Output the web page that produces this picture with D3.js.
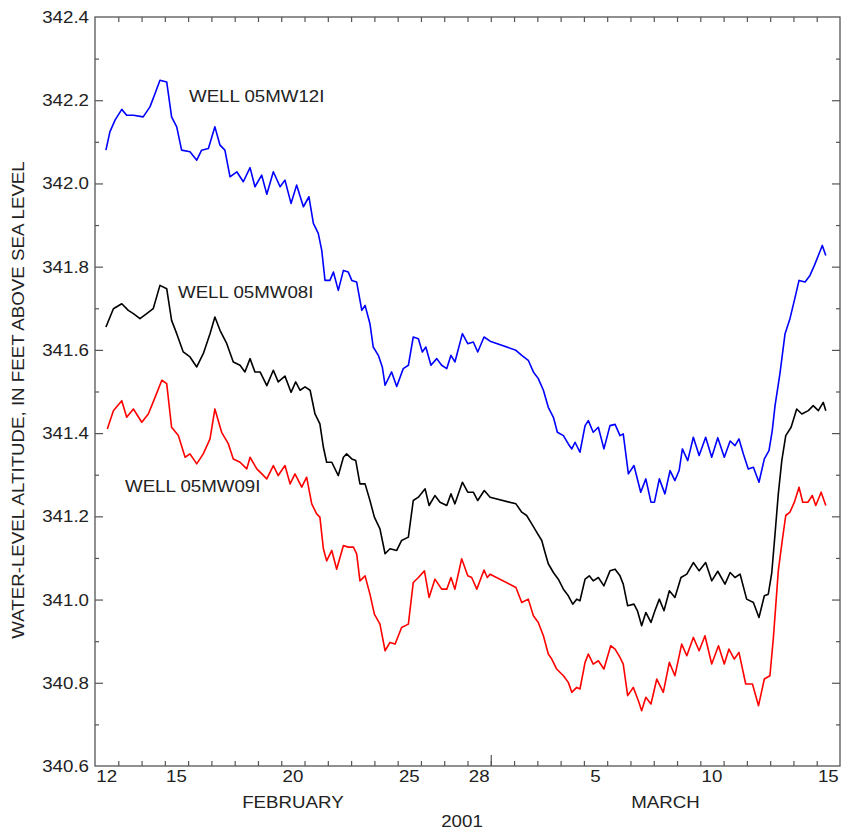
<!DOCTYPE html>
<html>
<head>
<meta charset="utf-8">
<script src="https://cdn.jsdelivr.net/npm/d3@7"></script>
<style>
  body { margin: 0; background: #fff; }
  text { font-family: "Liberation Sans", Arial, sans-serif; fill: #222; }
</style>
</head>
<body>
<svg id="chart" width="841" height="830"></svg>
<script>
// days counted from 12 Feb 2001 00:00, levels in feet
const blueDays = [0.47,0.64,0.86,1.15,1.36,1.65,2.07,2.36,2.58,2.79,3.08,3.29,3.51,3.72,4.08,4.37,4.58,4.87,5.15,5.37,5.58,5.80,6.09,6.37,6.66,6.87,7.16,7.38,7.66,7.95,8.16,8.42,8.66,8.95,9.19,9.38,9.59,9.74,9.88,10.09,10.24,10.45,10.67,10.88,11.03,11.24,11.46,11.60,11.81,11.95,12.17,12.34,12.46,12.74,12.96,13.24,13.46,13.67,13.89,14.06,14.21,14.43,14.68,14.89,15.11,15.29,15.46,15.78,16.01,16.25,16.44,16.71,16.97,18.08,18.33,18.61,18.83,19.04,19.26,19.47,19.69,19.86,20.12,20.33,20.48,20.62,20.83,21.05,21.19,21.40,21.62,21.86,22.12,22.34,22.55,22.69,22.91,23.15,23.44,23.66,23.88,24.03,24.24,24.48,24.70,24.91,25.09,25.23,25.46,25.70,25.95,26.23,26.49,26.75,27.03,27.28,27.49,27.66,27.85,28.06,28.28,28.52,28.75,28.95,29.09,29.21,29.42,29.64,29.85,30.04,30.24,30.50,30.71,30.90,31.07,31.24,31.39];
const blueLevels = [342.080,342.124,342.152,342.178,342.164,342.164,342.160,342.184,342.216,342.248,342.244,342.160,342.136,342.080,342.076,342.056,342.080,342.084,342.136,342.092,342.080,342.016,342.028,342.004,342.038,341.992,342.020,341.974,342.028,341.992,342.008,341.952,341.996,341.944,341.968,341.904,341.880,341.839,341.767,341.767,341.787,341.743,341.791,341.787,341.767,341.763,341.695,341.707,341.663,341.607,341.587,341.559,341.515,341.547,341.512,341.555,341.563,341.631,341.627,341.595,341.607,341.563,341.579,341.563,341.555,341.587,341.571,341.639,341.615,341.619,341.595,341.631,341.621,341.599,341.587,341.575,341.547,341.531,341.503,341.462,341.438,341.402,341.394,341.374,341.362,341.378,341.354,341.418,341.430,341.402,341.414,341.362,341.418,341.421,341.394,341.398,341.302,341.322,341.258,341.290,341.234,341.234,341.290,341.254,341.310,341.286,341.310,341.362,341.334,341.390,341.346,341.390,341.342,341.389,341.342,341.381,341.370,341.386,341.350,341.314,341.318,341.282,341.338,341.358,341.406,341.466,341.543,341.639,341.675,341.719,341.767,341.763,341.779,341.803,341.827,341.851,341.827];

const blackDays = [0.47,0.79,1.15,1.43,1.65,1.93,2.22,2.50,2.79,3.08,3.29,3.51,3.79,4.08,4.37,4.65,4.94,5.15,5.37,5.66,5.94,6.23,6.44,6.66,6.87,7.09,7.38,7.66,7.87,8.16,8.42,8.62,8.81,9.02,9.24,9.45,9.66,9.81,9.95,10.17,10.45,10.67,10.81,11.03,11.20,11.38,11.60,11.81,12.00,12.24,12.46,12.67,12.96,13.17,13.46,13.67,13.89,14.18,14.35,14.60,14.82,15.11,15.29,15.46,15.78,16.01,16.25,16.44,16.72,16.97,18.08,18.33,18.54,18.76,18.97,19.19,19.33,19.47,19.69,19.90,20.12,20.33,20.52,20.69,20.83,21.05,21.23,21.40,21.62,21.86,22.12,22.34,22.55,22.69,22.88,23.15,23.30,23.48,23.66,23.88,24.05,24.24,24.44,24.67,24.91,25.17,25.42,25.70,25.95,26.23,26.49,26.75,27.06,27.28,27.49,27.71,27.99,28.28,28.52,28.75,28.92,29.07,29.21,29.35,29.50,29.67,29.90,30.14,30.36,30.64,30.85,31.07,31.28,31.39];
const blackLevels = [341.655,341.699,341.711,341.695,341.687,341.675,341.687,341.699,341.755,341.747,341.671,341.639,341.595,341.583,341.559,341.591,341.639,341.679,341.647,341.615,341.571,341.563,341.547,341.579,341.547,341.547,341.514,341.551,341.523,341.537,341.498,341.523,341.503,341.511,341.503,341.446,341.422,341.366,341.330,341.330,341.298,341.342,341.350,341.338,341.334,341.278,341.278,341.238,341.198,341.170,341.110,341.122,341.118,341.142,341.150,341.238,341.246,341.266,341.226,341.250,341.234,341.226,341.254,341.230,341.282,341.258,341.258,341.238,341.262,341.246,341.230,341.210,341.202,341.182,341.162,341.142,341.113,341.086,341.065,341.049,341.025,341.009,340.989,341.001,340.997,341.049,341.057,341.045,341.053,341.033,341.069,341.073,341.057,341.037,340.985,340.989,340.973,340.937,340.969,340.945,340.973,341.001,340.973,341.021,341.005,341.053,341.061,341.089,341.069,341.089,341.045,341.068,341.037,341.065,341.053,341.061,341.001,340.993,340.957,341.009,341.013,341.065,341.158,341.254,341.334,341.394,341.414,341.458,341.446,341.454,341.466,341.454,341.474,341.454];

const redDays = [0.53,0.79,1.15,1.36,1.65,2.01,2.29,2.58,2.87,3.08,3.29,3.58,3.87,4.08,4.37,4.65,4.94,5.15,5.44,5.73,5.94,6.23,6.52,6.66,6.95,7.38,7.66,7.87,8.16,8.38,8.59,8.88,9.09,9.31,9.52,9.66,9.81,9.95,10.17,10.38,10.67,10.88,11.10,11.24,11.38,11.60,11.81,12.00,12.24,12.46,12.67,12.89,13.17,13.46,13.67,13.89,14.15,14.35,14.60,14.89,15.11,15.29,15.46,15.75,16.01,16.18,16.40,16.71,16.85,16.97,18.08,18.33,18.61,18.83,19.04,19.26,19.47,19.62,19.83,20.12,20.33,20.48,20.69,20.83,21.05,21.19,21.40,21.62,21.86,22.15,22.34,22.55,22.69,22.88,23.12,23.34,23.48,23.66,23.88,24.13,24.41,24.67,24.91,25.20,25.42,25.70,25.95,26.20,26.49,26.78,27.03,27.23,27.46,27.66,27.95,28.24,28.50,28.75,28.99,29.14,29.35,29.52,29.67,29.85,30.04,30.24,30.40,30.62,30.81,30.96,31.19,31.39];
const redLevels = [341.410,341.454,341.478,341.438,341.458,341.426,341.446,341.486,341.527,341.519,341.414,341.394,341.342,341.350,341.326,341.350,341.386,341.458,341.402,341.374,341.338,341.330,341.314,341.342,341.314,341.290,341.322,341.298,341.322,341.278,341.302,341.270,341.294,341.230,341.206,341.198,341.122,341.093,341.118,341.073,341.130,341.126,341.126,341.110,341.045,341.057,341.013,340.965,340.941,340.877,340.897,340.893,340.933,340.941,341.041,341.053,341.069,341.005,341.049,341.025,341.025,341.053,341.025,341.098,341.057,341.053,341.025,341.071,341.053,341.061,341.029,340.993,341.001,340.961,340.945,340.913,340.869,340.857,340.833,340.817,340.801,340.777,340.789,340.785,340.849,340.869,340.845,340.853,340.833,340.889,340.881,340.861,340.845,340.769,340.789,340.757,340.733,340.765,340.749,340.809,340.777,340.849,340.817,340.893,340.865,340.909,340.877,340.913,340.845,340.889,340.845,340.881,340.857,340.873,340.797,340.797,340.745,340.809,340.817,340.909,341.069,341.142,341.202,341.210,341.234,341.270,341.234,341.234,341.250,341.226,341.258,341.226];

const wellNames = ["WELL 05MW12I", "WELL 05MW08I", "WELL 05MW09I"];
const wellColors = ["#0000ff", "#000000", "#ff0000"];
const febLabels = [12, 15, 20, 25, 28];
const marLabels = [5, 10, 15];
const yTicks = [340.6, 340.8, 341.0, 341.2, 341.4, 341.6, 341.8, 342.0, 342.2, 342.4];

const t0 = Date.UTC(2001, 1, 12);
const toDate = d => new Date(t0 + d * 864e5);

const svg = d3.select("#chart");
const plotLeft = 95, plotRight = 840, plotTop = 17, plotBottom = 766;

const x = d3.scaleUtc()
  .domain([new Date(Date.UTC(2001, 1, 12)), new Date(Date.UTC(2001, 2, 16))])
  .range([plotLeft, plotRight]);
const y = d3.scaleLinear().domain([340.6, 342.4]).range([plotBottom, plotTop]);

const axisColor = "#555";
const stretch = 1.1;

// put a text with a little horizontal stretch like the original
function label(g, px, py, txt, anchor, rot) {
  return g.append("text")
    .attr("transform", `translate(${px},${py}) rotate(${rot || 0}) scale(${stretch},1)`)
    .attr("text-anchor", anchor || "start")
    .style("font-size", "17px")
    .text(txt);
}

// series
const series = [
  { days: blueDays, levels: blueLevels },
  { days: blackDays, levels: blackLevels },
  { days: redDays, levels: redLevels }
];

const line = d3.line()
  .x(d => x(d[0]))
  .y(d => y(d[1]));

series.forEach((s, i) => {
  const pts = s.days.map((d, j) => [toDate(d), s.levels[j]]);
  svg.append("path")
    .datum(pts)
    .attr("fill", "none")
    .attr("stroke", wellColors[i])
    .attr("stroke-width", 1.6)
    .attr("stroke-linejoin", "round")
    .attr("d", line);
});

// frame
svg.append("rect")
  .attr("x", plotLeft).attr("y", plotTop)
  .attr("width", plotRight - plotLeft).attr("height", plotBottom - plotTop)
  .attr("fill", "none")
  .attr("stroke", axisColor)
  .attr("stroke-width", 1.3);

function styleAxis(g) {
  g.select(".domain").remove();
  g.selectAll(".tick line").attr("stroke", axisColor).attr("stroke-width", 1.2);
}

const days = d3.utcDay.range(x.domain()[0], x.domain()[1]).slice(1);
const monthStart = [new Date(Date.UTC(2001, 2, 1))];

svg.append("g").attr("transform", `translate(0,${plotBottom})`)
  .call(d3.axisBottom(x).tickValues(days).tickSize(-5).tickFormat(""))
  .call(styleAxis);
svg.append("g").attr("transform", `translate(0,${plotBottom})`)
  .call(d3.axisBottom(x).tickValues(monthStart).tickSize(-11).tickFormat(""))
  .call(styleAxis);
svg.append("g").attr("transform", `translate(0,${plotTop})`)
  .call(d3.axisTop(x).tickValues(days).tickSize(-5).tickFormat(""))
  .call(styleAxis);

const yMinor = d3.range(340.7, 342.4, 0.2);
const yMajor = yTicks.slice(1, -1);
svg.append("g").attr("transform", `translate(${plotLeft},0)`)
  .call(d3.axisLeft(y).tickValues(yMajor).tickSize(-8).tickFormat(""))
  .call(styleAxis);
svg.append("g").attr("transform", `translate(${plotLeft},0)`)
  .call(d3.axisLeft(y).tickValues(yMinor).tickSize(-4).tickFormat(""))
  .call(styleAxis);
svg.append("g").attr("transform", `translate(${plotRight},0)`)
  .call(d3.axisRight(y).tickValues(yMajor).tickSize(-8).tickFormat(""))
  .call(styleAxis);
svg.append("g").attr("transform", `translate(${plotRight},0)`)
  .call(d3.axisRight(y).tickValues(yMinor).tickSize(-4).tickFormat(""))
  .call(styleAxis);

// y tick labels
const fmt = d3.format(".1f");
yTicks.forEach(v => label(svg, 89, y(v) + 6, fmt(v), "end"));

// day labels centred in their day
febLabels.forEach(d => {
  const mid = d3.utcHour.offset(new Date(Date.UTC(2001, 1, d)), 12);
  label(svg, x(mid), 782, d, "middle");
});
marLabels.forEach(d => {
  const mid = d3.utcHour.offset(new Date(Date.UTC(2001, 2, d)), 12);
  label(svg, x(mid), 782, d, "middle");
});

label(svg, (x(x.domain()[0]) + x(monthStart[0])) / 2, 808, "FEBRUARY", "middle");
label(svg, (x(monthStart[0]) + x(x.domain()[1])) / 2, 808, "MARCH", "middle");
label(svg, 462, 827, "2001", "middle");

label(svg, 24, 400, "WATER-LEVEL ALTITUDE, IN FEET ABOVE SEA LEVEL", "middle", -90);

// well names
const namePos = [[189, 102], [178, 298], [125, 492]];
wellNames.forEach((n, i) => label(svg, namePos[i][0], namePos[i][1], n));
</script>
</body>
</html>
